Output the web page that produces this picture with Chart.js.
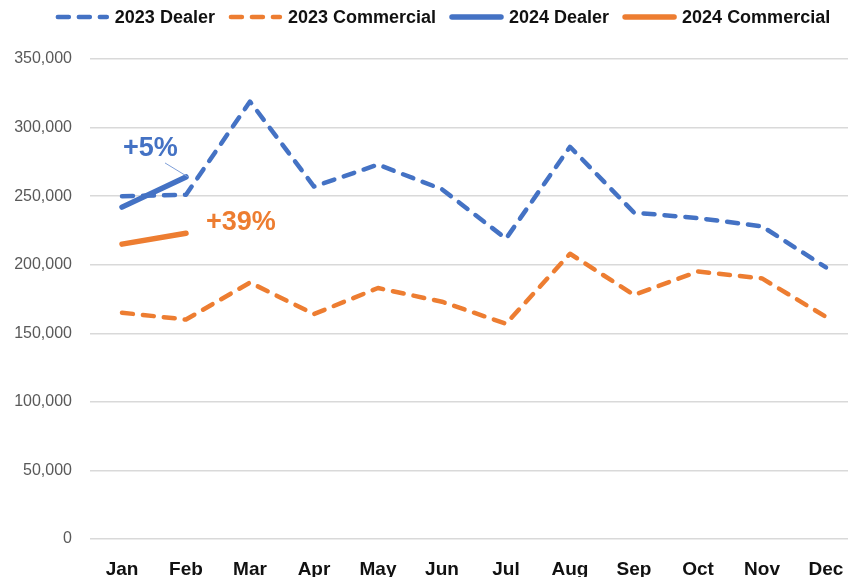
<!DOCTYPE html>
<html>
<head>
<meta charset="utf-8">
<script src="https://cdn.jsdelivr.net/npm/chart.js@4/dist/chart.umd.min.js"></script>
<style>
  html, body { margin: 0; padding: 0; background: #fff; overflow: hidden; }
  #wrap { width: 848px; height: 577px; overflow: hidden; position: relative; }
  canvas { display: block; }
</style>
</head>
<body>
<div id="wrap"><canvas id="c" width="860" height="600"></canvas></div>
<script>
const months = ['Jan','Feb','Mar','Apr','May','Jun','Jul','Aug','Sep','Oct','Nov','Dec'];
const dealer2023 = [250000, 251000, 319000, 257000, 273000, 255000, 219000, 286000, 238000, 234000, 228000, 198000];
const commercial2023 = [165000, 160000, 187000, 164000, 183000, 173000, 157000, 208000, 178000, 195000, 190000, 162000];
const dealer2024 = [242000, 264000];
const commercial2024 = [215000, 223000];
const yTicks = [0, 50000, 100000, 150000, 200000, 250000, 300000, 350000];
const dealerChange = '+5%';
const commercialChange = '+39%';

const BLUE = '#4472C4';
const ORANGE = '#ED7D31';

const CHART_LEFT = 90, CHART_TOP = 59, CHART_BOTTOM = 539, CHART_RIGHT = 858;
const CW = 860, CH = 600;

const legendPlugin = {
  id: 'customLegend',
  afterDraw(chart) {
    const ctx = chart.ctx;
    ctx.save();
    ctx.font = 'bold 18px "Liberation Sans", Arial, sans-serif';
    const markerW = 53, gapText = 6, gapItem = 14;
    const items = chart.data.datasets.map(ds => ({ds, w: ctx.measureText(ds.label).width}));
    let total = 0;
    items.forEach((it, i) => { total += markerW + gapText + it.w + (i < items.length - 1 ? gapItem : 0); });
    let x = 443 - total / 2;
    const y = 17;
    items.forEach(it => {
      const ds = it.ds;
      ctx.beginPath();
      ctx.strokeStyle = ds.borderColor;
      ctx.lineWidth = ds.borderWidth;
      ctx.lineCap = 'round';
      ctx.setLineDash(ds.borderDash || []);
      ctx.moveTo(x + 2, y);
      ctx.lineTo(x + markerW - 2, y);
      ctx.stroke();
      ctx.setLineDash([]);
      x += markerW + gapText;
      ctx.fillStyle = '#111';
      ctx.textBaseline = 'middle';
      ctx.textAlign = 'left';
      ctx.fillText(ds.label, x, y + 1);
      x += it.w + gapItem;
    });
    ctx.restore();
  }
};

const annotationPlugin = {
  id: 'changeLabels',
  afterDatasetsDraw(chart) {
    const ctx = chart.ctx;
    const xs = chart.scales.x, ys = chart.scales.y;
    ctx.save();
    const febX = xs.getPixelForValue(1);
    const janX = xs.getPixelForValue(0);
    const dY = ys.getPixelForValue(dealer2024[1]);
    const cY = ys.getPixelForValue(commercial2024[1]);
    ctx.beginPath();
    ctx.strokeStyle = '#7f9fd8';
    ctx.lineWidth = 1;
    ctx.moveTo(febX + 2, dY);
    ctx.lineTo(febX - 21, dY - 14);
    ctx.stroke();
    ctx.font = 'bold 27px "Liberation Sans", Arial, sans-serif';
    ctx.textBaseline = 'alphabetic';
    ctx.textAlign = 'left';
    ctx.fillStyle = BLUE;
    ctx.fillText(dealerChange, janX + 1, dY - 21);
    ctx.fillStyle = ORANGE;
    ctx.fillText(commercialChange, febX + 20, cY - 3);
    ctx.restore();
  }
};

const dashed = [11, 10];

new Chart(document.getElementById('c'), {
  type: 'line',
  data: {
    labels: months,
    datasets: [
      { label: '2023 Dealer', data: dealer2023, borderColor: BLUE, backgroundColor: BLUE, borderWidth: 4.5, borderDash: dashed, borderCapStyle: 'round', borderJoinStyle: 'round', pointRadius: 0, tension: 0, order: 3 },
      { label: '2023 Commercial', data: commercial2023, borderColor: ORANGE, backgroundColor: ORANGE, borderWidth: 4.5, borderDash: dashed, borderCapStyle: 'round', borderJoinStyle: 'round', pointRadius: 0, tension: 0, order: 4 },
      { label: '2024 Dealer', data: dealer2024, borderColor: BLUE, backgroundColor: BLUE, borderWidth: 5.5, borderCapStyle: 'round', borderJoinStyle: 'round', pointRadius: 0, tension: 0, order: 1 },
      { label: '2024 Commercial', data: commercial2024, borderColor: ORANGE, backgroundColor: ORANGE, borderWidth: 5.5, borderCapStyle: 'round', borderJoinStyle: 'round', pointRadius: 0, tension: 0, order: 2 }
    ]
  },
  options: {
    responsive: false,
    animation: false,
    devicePixelRatio: 1,
    layout: { padding: { top: CHART_TOP, left: 0, right: CW - CHART_RIGHT, bottom: 0 } },
    plugins: { legend: { display: false }, tooltip: { enabled: false } },
    scales: {
      x: {
        offset: true,
        grid: { display: false, drawTicks: false },
        border: { display: false },
        ticks: { padding: 19, color: '#111', font: { family: '"Liberation Sans", Arial, sans-serif', size: 19, weight: 'bold' }, autoSkip: false, maxRotation: 0 },
        afterFit(s) { s.height = CH - CHART_BOTTOM; s.paddingRight = 0; s.paddingLeft = 0; }
      },
      y: {
        min: 0, max: 350000,
        afterBuildTicks(s) { s.ticks = yTicks.map(v => ({ value: v })); },
        grid: { color: '#d9d9d9', lineWidth: 1.5, drawTicks: false },
        border: { display: false },
        ticks: { padding: 18, color: '#595959', font: { family: '"Liberation Sans", Arial, sans-serif', size: 16 },
          callback: v => v.toLocaleString('en-US') },
        afterFit(s) { s.width = CHART_LEFT; s.paddingTop = 0; s.paddingBottom = 0; }
      }
    }
  },
  plugins: [legendPlugin, annotationPlugin]
});
</script>
</body>
</html>
